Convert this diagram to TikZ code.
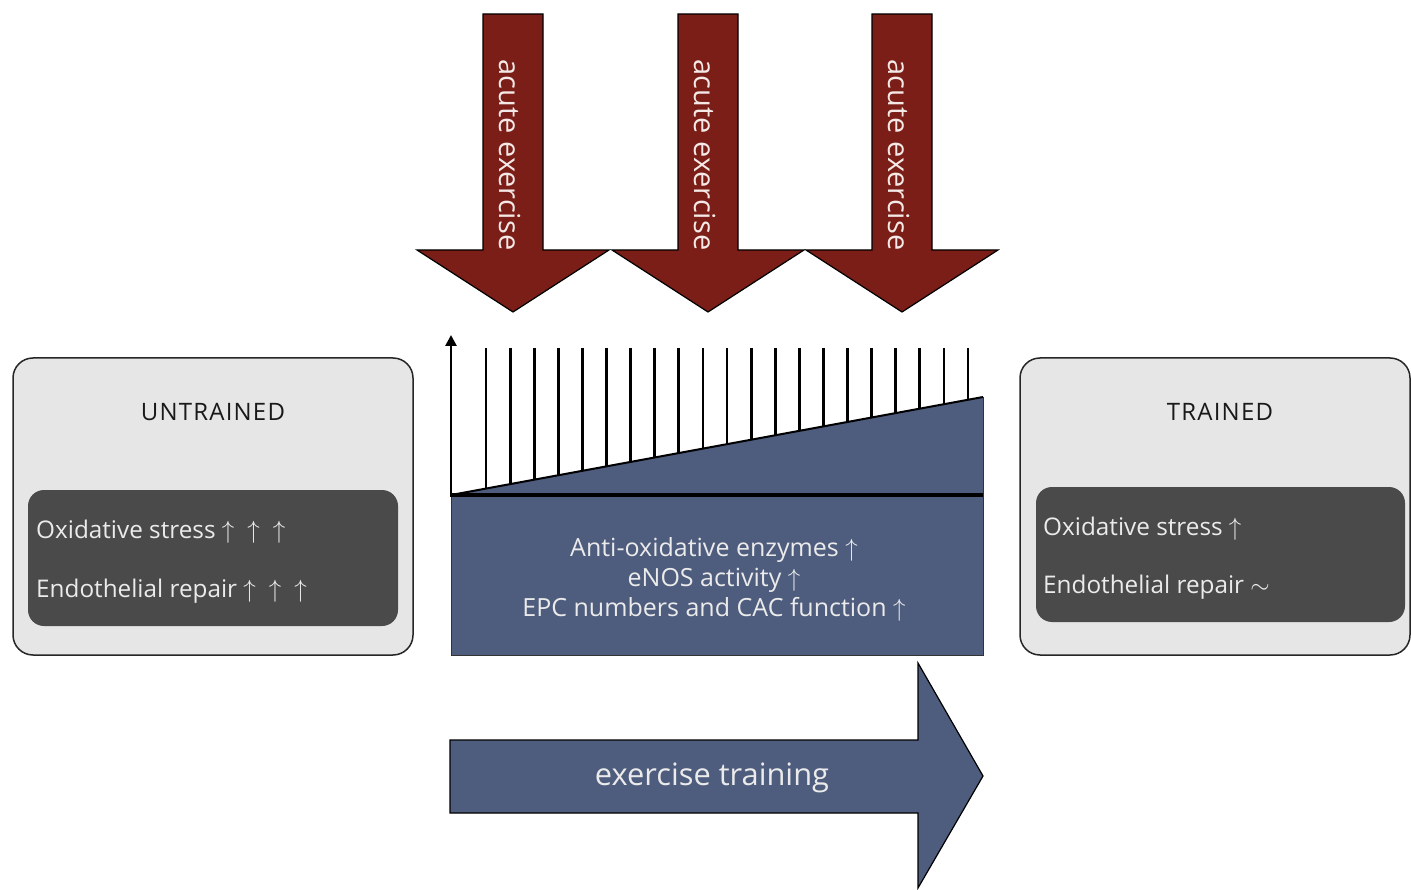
\documentclass[tikz,border=0pt]{standalone}
\usepackage{fontspec}
\setmainfont{Open Sans}
\usetikzlibrary{arrows.meta}
\definecolor{exred}{HTML}{7A1E17}
\definecolor{slate}{HTML}{4E5C7D}
\definecolor{boxgray}{HTML}{E6E6E6}
\definecolor{innergray}{HTML}{4A4A4A}
\definecolor{pale}{HTML}{F4E9E6}
\newcommand{\upar}{$\uparrow$}
\newcommand{\gapup}{\hspace{13pt}$\uparrow$}
\begin{document}
\begin{tikzpicture}[x=1pt,y=-1pt,
  redarrow/.style={fill=exred,draw=black,line width=1.2},
  arrowtext/.style={rotate=-90,text=pale,font=\fontsize{29}{32}\selectfont,inner sep=0},
  outerbox/.style={fill=boxgray,draw=black!85,line width=1.5,rounded corners=20},
  innerbox/.style={fill=innergray,rounded corners=16},
  boxtitle/.style={font=\fontsize{24}{28}\selectfont\addfontfeatures{LetterSpace=5},text=black!90,inner sep=0},
  boxtext/.style={font=\fontsize{24.3}{28}\selectfont,text=white!92!black,anchor=base west,inner sep=0},
  centertext/.style={font=\fontsize{25}{30}\selectfont,text=white!92!black,align=center,inner sep=0},
  bar/.style={line width=2.8,black}
]
\useasboundingbox (0,0) rectangle (1411,890);

% acute exercise arrows
\foreach \cx/\n in {513/1,708/2,902/3}{
  \draw[redarrow] ({\cx-30},14) -- ({\cx+30},14) -- ({\cx+30},250) -- ({\cx+96},250)
     -- (\cx,312) -- ({\cx-96},250) -- ({\cx-30},250) -- cycle;
  \node[arrowtext] (ae\n) at ({\cx-3},155) {acute exercise};
}

% chart
\fill[slate] (451,495) -- (983,397) -- (983,655) -- (451,655) -- cycle;
\draw[black!80,line width=1] (983,397) -- (983,655) -- (451,655) -- (451,495);
\foreach \i in {0,...,20}{
  \pgfmathsetmacro{\xx}{486+24.1*\i}
  \pgfmathsetmacro{\yy}{495-(\xx-451)*0.18421}
  \draw[bar] (\xx,348) -- (\xx,\yy);
}
\draw[line width=2,black] (451,495) -- (983,397);
\draw[line width=4,black] (451,495) -- (983,495);
\coordinate (axbase) at (451,497);
\coordinate (axtop) at (451,335);
\draw[line width=2.6,-{Triangle[length=11,width=11]}] (axbase) -- (axtop);

\node[centertext] (gains) at (714,579) {Anti-oxidative enzymes \upar\\eNOS activity \upar\\EPC numbers and CAC function \upar};

% exercise training arrow
\draw[fill=slate,draw=black,line width=1.2] (450,740) -- (918,740) -- (918,663) -- (983,776)
  -- (918,888) -- (918,813) -- (450,813) -- cycle;
\node[font=\fontsize{30.8}{34}\selectfont,text=white!92!black,inner sep=0] (et) at (712,778) {exercise training};

% untrained box
\draw[outerbox] (13,358) rectangle (413,655);
\fill[innerbox] (28,490) rectangle (398,626);
\node[boxtitle] (untr) at (213,412) {UNTRAINED};
\node[boxtext] (u1) at (36,538) {Oxidative stress \upar\gapup\gapup};
\node[boxtext] (u2) at (36,597) {Endothelial repair \upar\gapup\gapup};

% trained box
\draw[outerbox] (1020,358) rectangle (1410,655);
\fill[innerbox] (1036,487) rectangle (1405,622);
\node[boxtitle] (tr) at (1220,412) {TRAINED};
\node[boxtext] (t1) at (1043,535) {Oxidative stress \upar};
\node[boxtext] (t2) at (1043,593) {Endothelial repair $\sim$};
\end{tikzpicture}
\end{document}
